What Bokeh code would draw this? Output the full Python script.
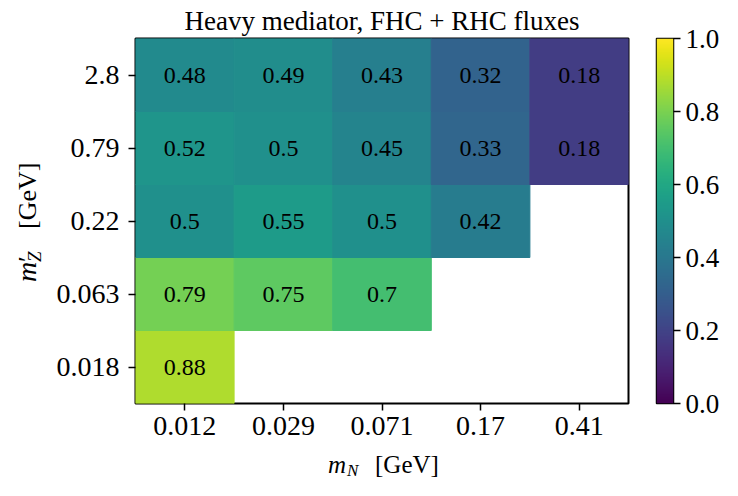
import math
import numpy as np
from bokeh.plotting import figure
from bokeh.models import (Range1d, FixedTicker, LinearColorMapper, ColumnDataSource,
                          Label, PrintfTickFormatter)
from bokeh.layouts import row, column
from bokeh.palettes import Viridis256
from bokeh.core.properties import value
from bokeh.embed import file_html
from bokeh.resources import INLINE

# ---------------- data ----------------
m_N_labels = ["0.012", "0.029", "0.071", "0.17", "0.41"]      # x categories
m_Z_labels = ["0.018", "0.063", "0.22", "0.79", "2.8"]        # y categories (bottom -> top)
row_0018 = [0.88, None, None, None, None]
row_0063 = [0.79, 0.75, 0.70, None, None]
row_022 = [0.50, 0.55, 0.50, 0.42, None]
row_079 = [0.52, 0.50, 0.45, 0.33, 0.18]
row_28 = [0.48, 0.49, 0.43, 0.32, 0.18]
rows = [row_0018, row_0063, row_022, row_079, row_28]
cbar_ticks = [0.0, 0.2, 0.4, 0.6, 0.8, 1.0]
title_text = "Heavy mediator, FHC + RHC fluxes"

FONT = "Liberation Serif"

xs, ys, vs, ts = [], [], [], []
for j, r in enumerate(rows):
    for i, v in enumerate(r):
        if v is None:
            continue
        xs.append(i + 0.5)
        ys.append(j + 0.5)
        vs.append(v)
        ts.append("{:g}".format(v))
src = ColumnDataSource(dict(x=xs, y=ys, v=vs, t=ts))

mapper = LinearColorMapper(palette=Viridis256, low=0, high=1)
xr = Range1d(0, 5)
yr = Range1d(0, 5)

# layout (total 722 x 480)
TOP = 38
BOT = 45
H1 = 448
H2 = 32
YLAB_W = 50
P_W = 594
CB_W = 78
TOTAL_W = YLAB_W + P_W + CB_W


def blank(fig):
    fig.grid.visible = False
    fig.outline_line_color = None
    fig.background_fill_color = "white"
    fig.border_fill_color = "white"
    return fig


# ---------------- main heatmap ----------------
p = figure(width=P_W, height=H1, x_range=xr, y_range=yr,
           output_backend="svg", toolbar_location=None,
           min_border_left=85, min_border_right=16, min_border_top=TOP, min_border_bottom=BOT)
p.grid.visible = False
p.outline_line_color = "black"
p.outline_line_width = 2
p.outline_line_alpha = 1.0
p.background_fill_color = "white"
p.border_fill_color = "white"

p.rect(x="x", y="y", width=1, height=1, source=src,
       fill_color={"field": "v", "transform": mapper},
       line_color={"field": "v", "transform": mapper}, line_width=1)
p.text(x="x", y="y", text="t", source=src, text_align="center", text_baseline="middle",
       text_font=value(FONT), text_font_size="24px", text_color="black")

tick_pos = [i + 0.5 for i in range(5)]
p.xaxis.ticker = FixedTicker(ticks=tick_pos)
p.yaxis.ticker = FixedTicker(ticks=tick_pos)
p.xaxis.major_label_overrides = {t: l for t, l in zip(tick_pos, m_N_labels)}
p.yaxis.major_label_overrides = {t: l for t, l in zip(tick_pos, m_Z_labels)}
for ax in (p.xaxis[0], p.yaxis[0]):
    ax.axis_line_color = None
    ax.major_tick_out = 7
    ax.major_tick_in = 0
    ax.major_tick_line_width = 1.5
    ax.major_tick_line_color = "black"
    ax.minor_tick_line_color = None
    ax.major_label_text_font = FONT
    ax.major_label_text_font_size = "28px"
    ax.major_label_text_color = "black"
p.xaxis.major_label_standoff = 6
p.yaxis.major_label_standoff = 9

p.title.text = title_text
p.title.align = "center"
p.title.text_font = FONT
p.title.text_font_size = "27px"
p.title.text_font_style = "normal"
p.title.text_color = "black"
p.title.standoff = 6

# ---------------- y label figure ----------------
ylab = blank(figure(width=YLAB_W, height=H1, x_range=Range1d(0, YLAB_W), y_range=yr,
                    title=None, output_backend="svg", toolbar_location=None,
                    min_border_left=0, min_border_right=0, min_border_top=TOP,
                    min_border_bottom=BOT))
ylab.axis.visible = False
ang = math.pi / 2
ylab.add_layout(Label(x=26, y=2.5, y_offset=-61, text="m", angle=ang,
                      text_align="left", text_baseline="alphabetic", text_font=FONT,
                      text_font_style="italic", text_font_size="28px", text_color="black"))
ylab.add_layout(Label(x=26.5, y=2.5, y_offset=-41, text="\u2032", angle=ang,
                      text_align="left", text_baseline="alphabetic", text_font=FONT,
                      text_font_size="26px", text_color="black"))
ylab.add_layout(Label(x=33.5, y=2.5, y_offset=-41, text="Z", angle=ang,
                      text_align="left", text_baseline="alphabetic", text_font=FONT,
                      text_font_style="italic", text_font_size="19px", text_color="black"))
ylab.add_layout(Label(x=26.5, y=2.5, y_offset=-8, text="[GeV]", angle=ang,
                      text_align="left", text_baseline="alphabetic", text_font=FONT,
                      text_font_size="26px", text_color="black"))

# ---------------- colorbar ----------------
cb = figure(width=CB_W, height=H1, x_range=Range1d(0, 1), y_range=Range1d(0, 1),
            y_axis_location="right", output_backend="svg", toolbar_location=None,
            min_border_left=12, min_border_right=47, min_border_top=TOP, min_border_bottom=BOT)
cb.grid.visible = False
cb.xaxis.visible = False
cb.outline_line_color = "black"
cb.outline_line_width = 1.5
cb.outline_line_alpha = 1.0
cb.background_fill_color = "white"
cb.border_fill_color = "white"
grad = np.linspace(0, 1, 256).reshape(-1, 1)
cb.image(image=[grad], x=0, y=0, dw=1, dh=1, color_mapper=mapper)
ya = cb.yaxis[0]
ya.ticker = FixedTicker(ticks=cbar_ticks)
ya.formatter = PrintfTickFormatter(format="%.1f")
ya.axis_line_color = None
ya.major_tick_out = 7
ya.major_tick_in = 0
ya.major_tick_line_width = 1.5
ya.major_tick_line_color = "black"
ya.minor_tick_line_color = None
ya.major_label_text_font = FONT
ya.major_label_text_font_size = "27px"
ya.major_label_text_color = "black"
ya.major_label_standoff = 5

# ---------------- x label figure ----------------
xlab = blank(figure(width=TOTAL_W, height=H2, x_range=xr, y_range=Range1d(0, H2), title=None,
                    output_backend="svg", toolbar_location=None,
                    min_border_left=135, min_border_right=94, min_border_top=0,
                    min_border_bottom=0))
xlab.axis.visible = False
xlab.add_layout(Label(x=2.5, y=16.25, x_offset=-54, text="m", text_align="left",
                      text_baseline="alphabetic", text_font=FONT, text_font_style="italic",
                      text_font_size="25px", text_color="black"))
xlab.add_layout(Label(x=2.5, y=10.1, x_offset=-35, text="N", text_align="left",
                      text_baseline="alphabetic", text_font=FONT, text_font_style="italic",
                      text_font_size="17px", text_color="black"))
xlab.add_layout(Label(x=2.5, y=16.25, x_offset=-7, text="[GeV]", text_align="left",
                      text_baseline="alphabetic", text_font=FONT,
                      text_font_size="25px", text_color="black"))

layout = column(row(ylab, p, cb), xlab)
open("out.html", "w").write(file_html(layout, INLINE))
